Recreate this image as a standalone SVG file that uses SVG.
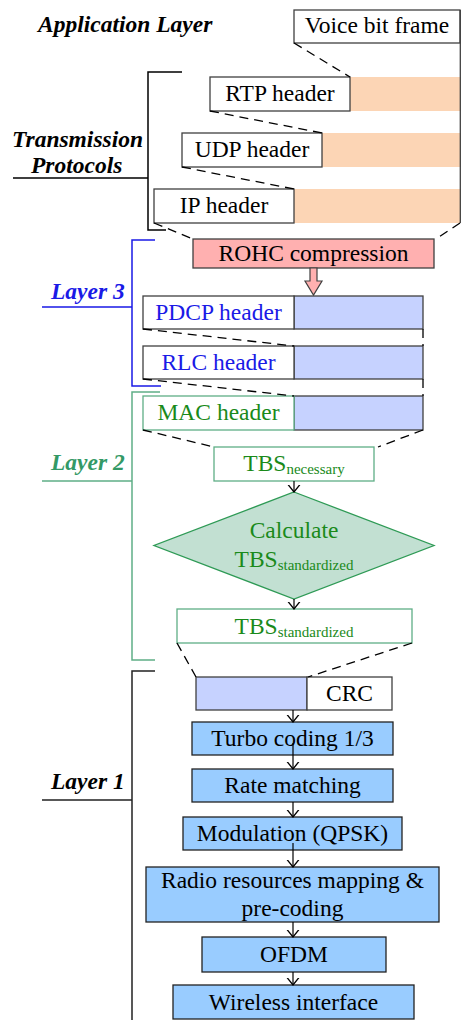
<svg xmlns="http://www.w3.org/2000/svg" width="462" height="1020" viewBox="0 0 462 1020" font-family="Liberation Serif, Times New Roman, serif">
<defs>
<style>
text{font-family:Liberation Serif, Times New Roman, serif;font-size:23.5px;}
.c{text-anchor:middle;}
.bi{font-weight:bold;font-style:italic;}
.sub{font-size:15px;}
.hdr{fill:#fff;stroke:#404040;stroke-width:1.3;}
.org{fill:#fcd5b5;stroke:none;}
.blu{fill:#c6d2ff;stroke:#404040;stroke-width:1.3;}
.gbox{fill:#fff;stroke:#5fae86;stroke-width:1.3;}
.l1{fill:#99ccff;stroke:#222;stroke-width:1.3;}
.dash{fill:none;stroke:#000;stroke-width:1.3;stroke-dasharray:9,6;}
.br{fill:none;stroke-width:1.5;}
.arr{fill:none;stroke:#000;stroke-width:1.2;marker-end:url(#ah);}
.blue{fill:#1a1ae6;}
.green{fill:#1a8a1a;}
.tgreen{fill:#339966;}
</style>
<marker id="ah" viewBox="0 0 8 14" refX="7.5" refY="7" markerWidth="8" markerHeight="14" markerUnits="userSpaceOnUse" orient="auto">
<path d="M0,1 L7.5,7 L0,13" fill="none" stroke="#000" stroke-width="1.3"/>
</marker>
</defs>

<g id="labels">
<text class="bi" x="38" y="32">Application Layer</text>
<text class="bi" x="12" y="147">Transmission</text>
<text class="bi" x="31" y="173">Protocols</text>
<text class="bi blue" x="51" y="299">Layer 3</text>
<text class="bi tgreen" x="51" y="470">Layer 2</text>
<text class="bi" x="51" y="789">Layer 1</text>
</g>

<g id="brackets">
<path class="br" stroke="#000" d="M182,72 H148 V230 H166 M13,178 H148"/>
<path class="br" stroke="#1a1ae6" d="M155,240 H132 V386 H161 M42,307 H132"/>
<path class="br" stroke="#5fae86" d="M160,392 H132 V660 H155 M42,481 H132"/>
<path class="br" stroke="#222" d="M155,671 H132 V1022 M42,800 H132"/>
</g>

<g id="voice">
<rect class="hdr" x="294" y="10" width="166" height="33"/>
<text class="c" x="377" y="33">Voice bit frame</text>
</g>
<g id="rtp">
<rect class="org" x="350" y="77" width="111" height="34"/>
<rect class="hdr" x="210" y="77" width="140" height="34"/>
<text class="c" x="280" y="101">RTP header</text>
</g>
<g id="udp">
<rect class="org" x="322" y="133" width="139" height="34"/>
<rect class="hdr" x="182" y="133" width="140" height="34"/>
<text class="c" x="252" y="157">UDP header</text>
</g>
<g id="ip">
<rect class="org" x="294" y="189" width="167" height="34"/>
<rect class="hdr" x="154" y="189" width="140" height="34"/>
<text class="c" x="224" y="213">IP header</text>
</g>
<g id="rohc">
<rect x="193" y="239" width="241" height="29" fill="#ffb0b0" stroke="#404040" stroke-width="1.3"/>
<text class="c" x="313.5" y="261">ROHC compression</text>
<path d="M310,268 H317 V281 H322 L313.5,295 L305,281 H310 Z" fill="#ffb0b0" stroke="#404040" stroke-width="1.2"/>
</g>
<g id="pdcp">
<rect class="blu" x="294" y="296" width="129" height="33"/>
<rect class="hdr" x="143" y="296" width="151" height="33"/>
<text class="c blue" x="218.5" y="320">PDCP header</text>
</g>
<g id="rlc">
<rect class="blu" x="294" y="346" width="129" height="33"/>
<rect class="hdr" x="143" y="346" width="151" height="33"/>
<text class="c blue" x="218.5" y="370">RLC header</text>
</g>
<g id="mac">
<rect class="blu" x="294" y="396" width="129" height="34"/>
<rect class="gbox" x="143" y="396" width="151" height="34"/>
<text class="c green" x="218.5" y="420">MAC header</text>
</g>
<g id="tbsnec">
<rect class="gbox" x="214" y="447" width="160" height="34"/>
<text class="c green" x="294" y="471">TBS<tspan class="sub" dy="3">necessary</tspan></text>
</g>
<g id="calc">
<polygon points="294,492 434,545.5 294,599 154,545.5" fill="#c2e0d2" stroke="#2e9a55" stroke-width="1.3"/>
<text class="c green" x="294" y="538">Calculate</text>
<text class="c green" x="294" y="567">TBS<tspan class="sub" dy="3">standardized</tspan></text>
</g>
<g id="tbsstd">
<rect class="gbox" x="177" y="609" width="235" height="34"/>
<text class="c green" x="294" y="634">TBS<tspan class="sub" dy="3">standardized</tspan></text>
</g>
<g id="crc">
<rect class="blu" x="196" y="677" width="111" height="33"/>
<rect class="hdr" x="307" y="677" width="85" height="33"/>
<text class="c" x="349.5" y="701">CRC</text>
</g>
<g id="turbo">
<rect class="l1" x="192" y="722" width="201" height="33"/>
<text class="c" x="292.5" y="746">Turbo coding 1/3</text>
</g>
<g id="rate">
<rect class="l1" x="192" y="769" width="201" height="33"/>
<text class="c" x="292.5" y="793">Rate matching</text>
</g>
<g id="mod">
<rect class="l1" x="183" y="817" width="219" height="33"/>
<text class="c" x="292.5" y="841">Modulation (QPSK)</text>
</g>
<g id="radio">
<rect class="l1" x="146" y="867" width="293" height="55"/>
<text class="c" x="292.5" y="888">Radio resources mapping &amp;</text>
<text class="c" x="292.5" y="916">pre-coding</text>
</g>
<g id="ofdm">
<rect class="l1" x="202" y="937" width="184" height="35"/>
<text class="c" x="294" y="962">OFDM</text>
</g>
<g id="wireless">
<rect class="l1" x="173" y="985" width="241" height="34"/>
<text class="c" x="293.5" y="1010">Wireless interface</text>
</g>

<g id="connectors">
<path class="dash" d="M294,43 L350,77 M210,111 L322,133 M182,167 L294,189 M154,223 L193,239 M460,223 L436,239"/>
<path fill="none" stroke="#404040" stroke-width="1.3" d="M460.3,10 V223"/>
<path class="dash" d="M143,329 L294,346 M143,379 L294,396 M423,329 V346 M423,379 V396"/>
<path class="dash" d="M143,430 L214,447 M423,430 L378,447"/>
<path class="dash" d="M177,643 L196,677 M412,643 L308,677"/>
<path class="arr" d="M294,481 V492"/>
<path class="arr" d="M294,599 V609"/>
<path class="arr" d="M293,710 V722"/>
<path class="arr" d="M293,743 V769"/>
<path class="arr" d="M293,802 V817"/>
<path class="arr" d="M293,843 V867"/>
<path class="arr" d="M293,922 V937"/>
<path class="arr" d="M293,972 V985"/>
</g>
</svg>
